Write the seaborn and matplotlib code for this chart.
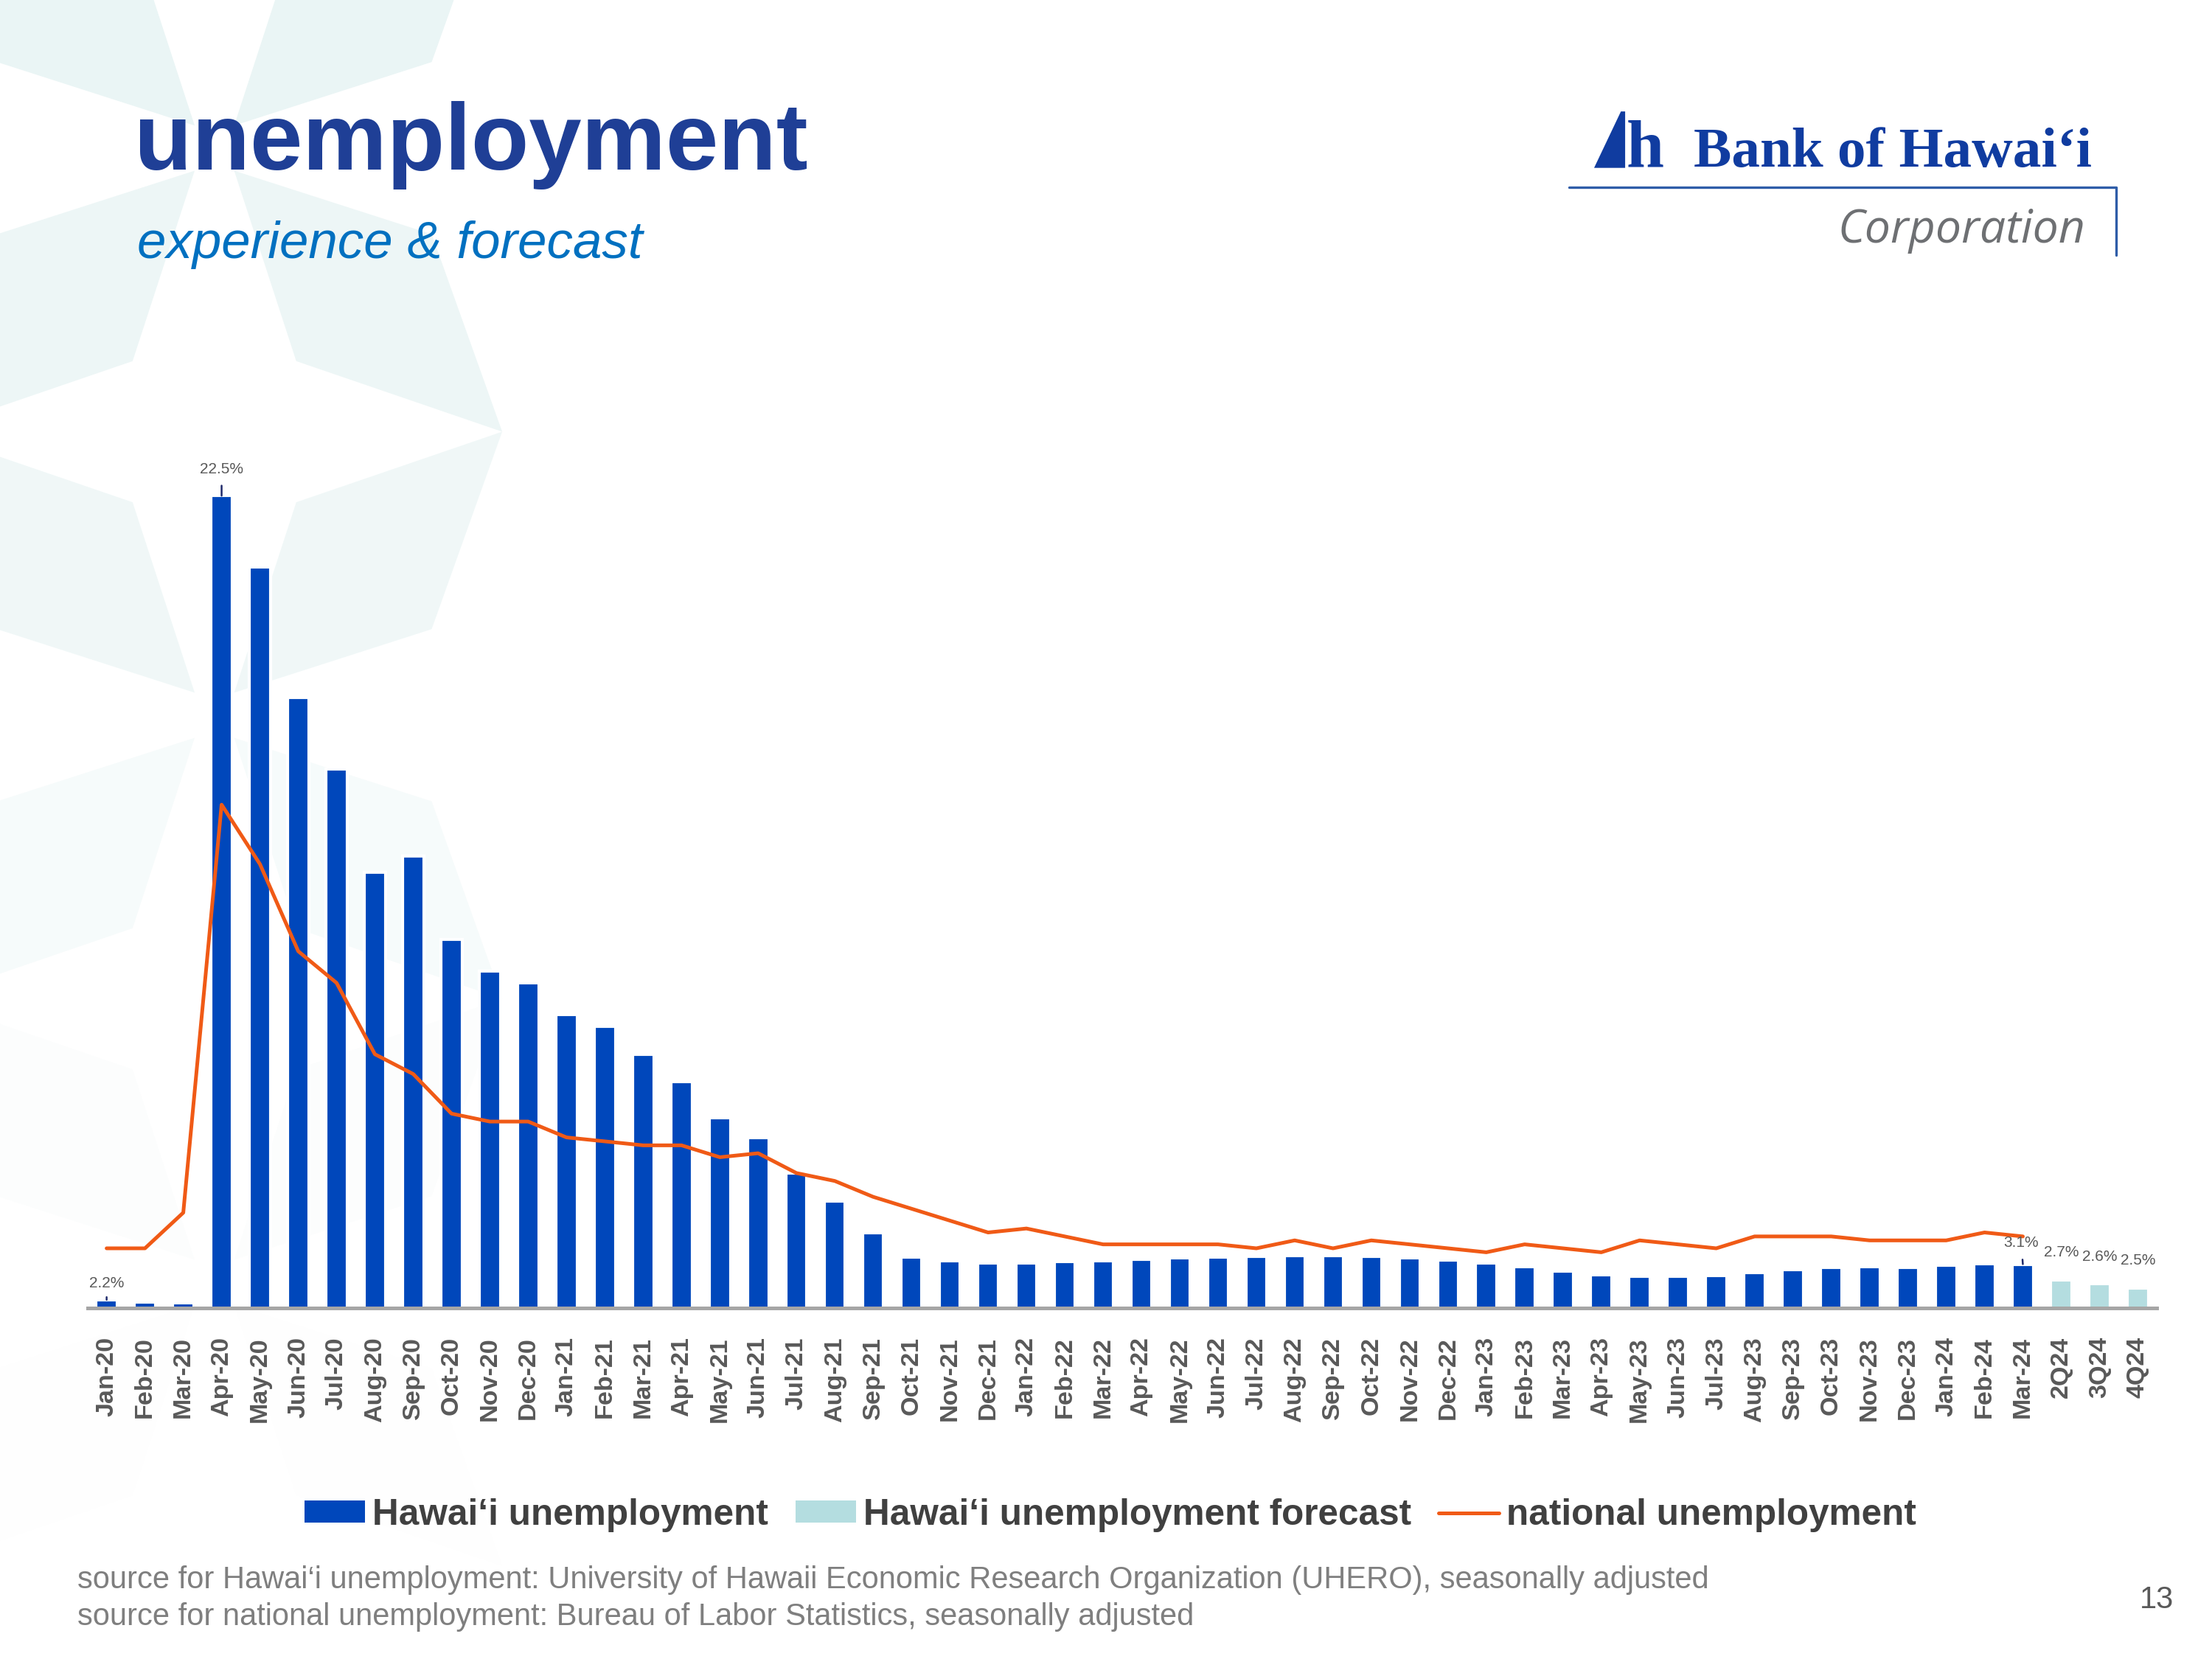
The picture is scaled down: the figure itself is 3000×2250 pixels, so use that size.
import matplotlib
matplotlib.use("Agg")
import matplotlib.pyplot as plt
import seaborn as sns
import pandas as pd
import numpy as np
from matplotlib.patches import Polygon, Patch
from matplotlib.lines import Line2D

# ---- data ----
months = ["Jan-20", "Feb-20", "Mar-20", "Apr-20", "May-20", "Jun-20", "Jul-20", "Aug-20", "Sep-20", "Oct-20", "Nov-20", "Dec-20",
          "Jan-21", "Feb-21", "Mar-21", "Apr-21", "May-21", "Jun-21", "Jul-21", "Aug-21", "Sep-21", "Oct-21", "Nov-21", "Dec-21",
          "Jan-22", "Feb-22", "Mar-22", "Apr-22", "May-22", "Jun-22", "Jul-22", "Aug-22", "Sep-22", "Oct-22", "Nov-22", "Dec-22",
          "Jan-23", "Feb-23", "Mar-23", "Apr-23", "May-23", "Jun-23", "Jul-23", "Aug-23", "Sep-23", "Oct-23", "Nov-23", "Dec-23",
          "Jan-24", "Feb-24", "Mar-24"]
hawaii = [2.2, 2.15, 2.12, 22.5, 20.7, 17.4, 15.6, 13.0, 13.4, 11.3, 10.5, 10.2,
          9.4, 9.1, 8.4, 7.7, 6.8, 6.3, 5.4, 4.7, 3.9, 3.27, 3.18, 3.12,
          3.13, 3.16, 3.19, 3.23, 3.26, 3.28, 3.30, 3.32, 3.32, 3.30, 3.26, 3.20,
          3.12, 3.03, 2.92, 2.83, 2.79, 2.79, 2.81, 2.88, 2.96, 3.02, 3.03, 3.02,
          3.07, 3.11, 3.1]
forecast_q = ["2Q24", "3Q24", "4Q24"]
hawaii_forecast = [2.7, 2.6, 2.5]
national = [3.5, 3.5, 4.4, 14.7, 13.2, 11.0, 10.2, 8.4, 7.9, 6.9, 6.7, 6.7,
            6.3, 6.2, 6.1, 6.1, 5.8, 5.9, 5.4, 5.2, 4.8, 4.5, 4.2, 3.9,
            4.0, 3.8, 3.6, 3.6, 3.6, 3.6, 3.5, 3.7, 3.5, 3.7, 3.6, 3.5,
            3.4, 3.6, 3.5, 3.4, 3.7, 3.6, 3.5, 3.8, 3.8, 3.8, 3.7, 3.7,
            3.7, 3.9, 3.8]

labels = months + forecast_q
df = pd.DataFrame({
    "period": labels,
    "rate": hawaii + hawaii_forecast,
    "kind": ["actual"] * len(months) + ["forecast"] * len(forecast_q),
})

BLUE = "#0047BB"
TEAL = "#B4DDE0"
ORANGE = "#F05A16"
GREY = "#595959"

sns.set_theme(style="white")
plt.rcParams["font.family"] = ["Liberation Sans", "DejaVu Sans"]

W, H = 1568.0, 1176.0  # layout measured on the slide preview
def fx(x): return x / W
def fy(y): return 1 - y / H

fig = plt.figure(figsize=(10, 7.5), dpi=300)
fig.patch.set_facecolor("white")

# faint background star pattern (top left), fading out downwards
kite = np.array([[14, 16], [154, 61], [204, 201], [58, 151]], float)
for cy, a_up, a_down in [(105, 1.0, 0.85), (507, 0.7, 0.4), (909, 0.12, 0.04)]:
    for sx in (-1, 1):
        for sy in (-1, 1):
            pts = np.column_stack([152 + sx * kite[:, 0], cy + sy * kite[:, 1]])
            fpts = np.column_stack([fx(pts[:, 0]), fy(pts[:, 1])])
            fig.patches.append(Polygon(fpts, closed=True, transform=fig.transFigure,
                                       facecolor="#EAF5F5", edgecolor="none",
                                       alpha=a_up if sy < 0 else a_down, zorder=-5))

ax = fig.add_axes([fx(62), fy(927), fx(1529) - fx(62), fy(300) - fy(927)])
ax.patch.set_alpha(0)

sns.barplot(data=df, x="period", y="rate", hue="kind", order=labels,
            palette={"actual": BLUE, "forecast": TEAL}, dodge=False,
            width=0.55, saturation=1, legend=False, ax=ax, zorder=2)
sns.lineplot(x=np.arange(len(national)), y=national, color=ORANGE, lw=1.2, ax=ax, zorder=3)

ax.set_xlim(-0.5, len(labels) - 0.5)
ax.set_ylim(2.0, 24.33)
ax.set_xlabel("")
ax.set_ylabel("")
ax.set_yticks([])
for s in ["top", "right", "left"]:
    ax.spines[s].set_visible(False)
ax.spines["bottom"].set_color("#A6A6A6")
ax.spines["bottom"].set_linewidth(1.2)
ax.spines["bottom"].set_zorder(4)
ax.set_xticks(range(len(labels)))
ax.set_xticklabels(labels, rotation=90, fontsize=8.2, fontweight="bold", color=GREY)
ax.tick_params(axis="x", length=0, pad=9.5)

# data labels
lab_kw = dict(textcoords="offset points", ha="center", va="bottom", fontsize=5, color=GREY)
lead = dict(arrowstyle="-", color="#1F2A6B", lw=0.6, shrinkA=1, shrinkB=0)
for i, off in [(0, 3.0), (3, 6.4), (len(months) - 1, 4.6)]:
    v = hawaii[i]
    ax.annotate(f"{v:.1f}%", xy=(i, v), xytext=(-0.5 if i == len(months) - 1 else 0, off),
                arrowprops=lead, **lab_kw)
for j, v in enumerate(hawaii_forecast):
    ax.annotate(f"{v:.1f}%", xy=(len(months) + j, v), xytext=(0, 6.6), **lab_kw)

# legend
handles = [Patch(facecolor=BLUE, edgecolor="none"),
           Patch(facecolor=TEAL, edgecolor="none"),
           Line2D([0], [0], color=ORANGE, lw=1.2)]
names = ["Hawai\u2018i unemployment", "Hawai\u2018i unemployment forecast", "national unemployment"]
leg = fig.legend(handles, names, loc="center", bbox_to_anchor=(fx(787), fy(1074)), ncol=3,
                 frameon=False, handlelength=1.65, handleheight=0.55, handletextpad=0.2,
                 columnspacing=0.75, prop={"size": 11.9, "weight": "bold"})
for t in leg.get_texts():
    t.set_color("#404040")

# titles
fig.text(fx(95), fy(120), "unemployment", fontsize=30.8, fontweight="bold", color="#1F3F96", va="baseline")
fig.text(fx(97), fy(183), "experience & forecast", fontsize=17, style="italic", color="#0070C0", va="baseline")

# logo
fig.patches.append(Polygon([[fx(1130), fy(119)], [fx(1149), fy(79)], [fx(1152), fy(79)], [fx(1152), fy(119)]],
                           closed=True, transform=fig.transFigure, facecolor="#103CA0", edgecolor="none"))
fig.text(fx(1153), fy(118), "h", fontsize=22, fontweight="bold", family="Liberation Serif", color="#103CA0", va="baseline")
fig.text(fx(1483), fy(118), "Bank of Hawai\u2018i", fontsize=18.5, fontweight="bold", family="Liberation Serif",
         color="#103CA0", ha="right", va="baseline")
fig.add_artist(Line2D([fx(1112), fx(1500), fx(1500)], [fy(133), fy(133), fy(181)],
                      transform=fig.transFigure, color="#2F5DA8", lw=0.8))
fig.text(fx(1478), fy(172), "Corporation", fontsize=15, style="italic", family=["Open Sans", "DejaVu Sans"],
         color="#6E7073", ha="right", va="baseline")

# footer
fig.text(fx(55), fy(1126), "source for Hawai\u2018i unemployment: University of Hawaii Economic Research Organization (UHERO), seasonally adjusted",
         fontsize=10, color="#7F7F7F", va="baseline")
fig.text(fx(55), fy(1152), "source for national unemployment: Bureau of Labor Statistics, seasonally adjusted",
         fontsize=10, color="#7F7F7F", va="baseline")
fig.text(fx(1541), fy(1140), "13", fontsize=10, color="#595959", ha="right", va="baseline")

fig.savefig("out.png", dpi=300)
